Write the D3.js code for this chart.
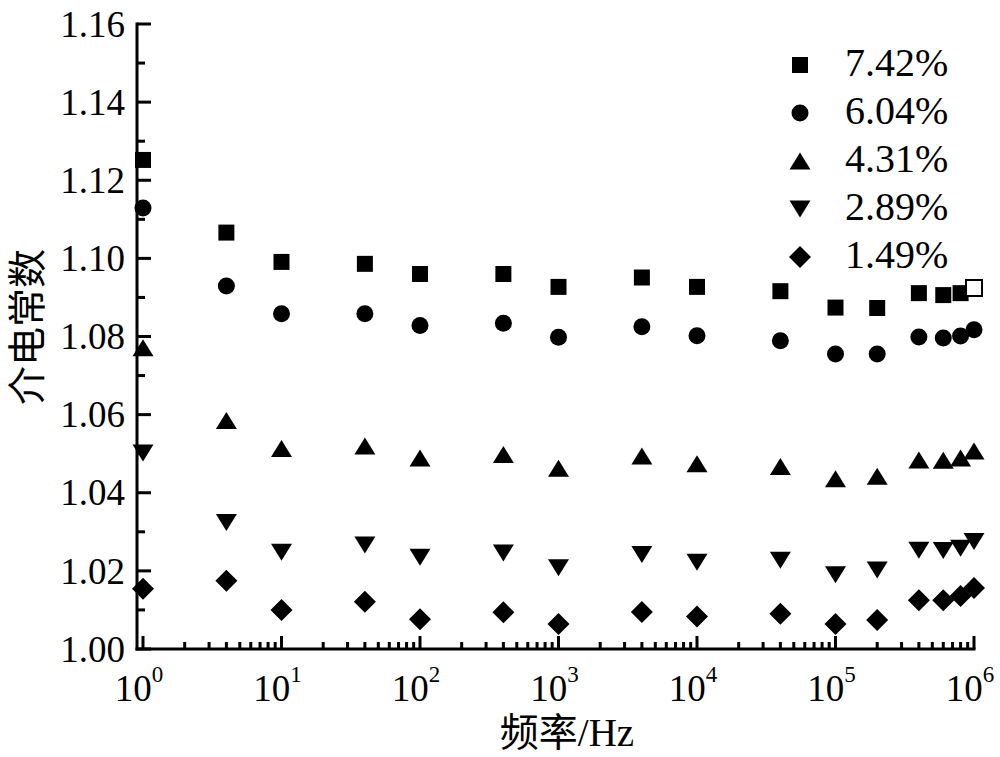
<!DOCTYPE html>
<html>
<head>
<meta charset="utf-8">
<script src="https://cdn.jsdelivr.net/npm/d3@7"></script>
<style>
  body { margin: 0; background: #fff; }
  svg { display: block; }
  text { font-family: "Liberation Serif", "Times New Roman", serif; fill: #000; }
</style>
</head>
<body>
<svg width="1000" height="757"></svg>
<script>
// frequencies (Hz)
const freqs = [1, 4, 10, 40, 100, 400, 1000, 4000, 1e4, 4e4, 1e5, 2e5, 4e5, 6e5, 8e5, 1e6];

const s742 = [1.1252, 1.1066, 1.0991, 1.0986, 1.0960, 1.0960, 1.0927, 1.0951, 1.0927, 1.0916, 1.0874, 1.0873, 1.0911, 1.0906, 1.0911, 1.0924];
const s604 = [1.1129, 1.0929, 1.0858, 1.0858, 1.0828, 1.0834, 1.0798, 1.0825, 1.0802, 1.0789, 1.0755, 1.0755, 1.0799, 1.0796, 1.0801, 1.0817];
const s431 = [1.0771, 1.0585, 1.0513, 1.0520, 1.0489, 1.0498, 1.0463, 1.0494, 1.0474, 1.0467, 1.0436, 1.0442, 1.0484, 1.0483, 1.0489, 1.0507];
const s289 = [1.0502, 1.0324, 1.0248, 1.0266, 1.0235, 1.0246, 1.0208, 1.0242, 1.0222, 1.0227, 1.0190, 1.0202, 1.0253, 1.0252, 1.0258, 1.0275];
const s149 = [1.0154, 1.0175, 1.0100, 1.0121, 1.0076, 1.0094, 1.0064, 1.0095, 1.0083, 1.0090, 1.0064, 1.0074, 1.0125, 1.0125, 1.0136, 1.0156];

const seriesNames = ["7.42%", "6.04%", "4.31%", "2.89%", "1.49%"];
const seriesValues = [s742, s604, s431, s289, s149];
const shapes = ["square", "circle", "up", "down", "diamond"];

const yTicks = [1.00, 1.02, 1.04, 1.06, 1.08, 1.10, 1.12, 1.14, 1.16];
const xTicks = [1, 10, 100, 1000, 1e4, 1e5, 1e6];

const svg = d3.select('svg');

const x = d3.scaleLog().domain([Math.pow(10, -0.0433), 1e6]).range([137, 974]);
const y = d3.scaleLinear().domain([1.00, 1.16]).range([649, 24]);

// marker shapes, centred on their bounding box
function shapePath(kind) {
  switch (kind) {
    case 'square': return 'M-8,-8H8V8H-8Z';
    case 'circle': return 'M-8.5,0A8.5,8.5 0 1,0 8.5,0A8.5,8.5 0 1,0 -8.5,0Z';
    case 'up': return 'M0,-8.5L10.5,8.5L-10.5,8.5Z';
    case 'down': return 'M0,8.5L10.5,-8.5L-10.5,-8.5Z';
    case 'diamond': return 'M0,-11L11,0L0,11L-11,0Z';
  }
}

// y tick labels
const yAxis = d3.axisLeft(y).tickValues(yTicks).tickSize(0).tickPadding(12)
  .tickFormat(d3.format('.2f'));
const gy = svg.append('g').attr('transform', 'translate(137,0)').call(yAxis);
gy.select('.domain').remove();
gy.selectAll('text').style('font-size', '37px').attr('dy', '0.33em');

// x tick labels as 10^n
const gx = svg.append('g');
xTicks.forEach(v => {
  const t = gx.append('text')
    .attr('x', x(v) - 4)
    .attr('y', 701)
    .attr('text-anchor', 'middle')
    .style('font-size', '37px')
    .text('10');
  t.append('tspan')
    .attr('dy', -19)
    .style('font-size', '23px')
    .text(Math.round(Math.log10(v)));
});

// inward ticks drawn as filled rects
const tickG = svg.append('g').attr('fill', '#000');
const yMinor = d3.range(0, 17).map(i => 1 + i * 0.01);
tickG.selectAll('rect.yt')
  .data(yMinor)
  .join('rect')
    .attr('class', 'yt')
    .attr('x', 137)
    .attr('y', d => y(d) - 1.5)
    .attr('width', (d, i) => i % 2 === 0 ? 14 : 8)
    .attr('height', 3);

const xMinor = [];
for (let e = 0; e <= 6; e++) {
  (e < 6 ? [1, 2, 3, 4, 5, 6, 7, 8, 9] : [1]).forEach(m => xMinor.push({ v: m * Math.pow(10, e), major: m === 1 }));
}
tickG.selectAll('rect.xt')
  .data(xMinor)
  .join('rect')
    .attr('class', 'xt')
    .attr('x', d => x(d.v) - 1.5)
    .attr('y', d => 649 - (d.major ? 13 : 7))
    .attr('width', 3)
    .attr('height', d => d.major ? 13 : 7);

// axis lines
tickG.append('rect').attr('x', 135.5).attr('y', 22.5).attr('width', 3).attr('height', 628);
tickG.append('rect').attr('x', 135.5).attr('y', 647.5).attr('width', 840).attr('height', 3);

// axis titles
svg.append('text')
  .attr('x', 567).attr('y', 746)
  .attr('text-anchor', 'middle')
  .style('font-size', '39px')
  .html('<tspan style="font-family:\'Noto Sans CJK SC\'">频率</tspan>/Hz');

svg.append('text')
  .attr('transform', 'translate(41,327) rotate(-90)')
  .attr('text-anchor', 'middle')
  .style('font-family', '"Noto Sans CJK SC"')
  .style('font-size', '39px')
  .text('介电常数');

// points
seriesValues.forEach((vals, si) => {
  svg.append('g').selectAll('path')
    .data(vals.map((v, i) => ({ f: freqs[i], v: v, last: i === vals.length - 1 })))
    .join('path')
      .attr('d', shapePath(shapes[si]))
      .attr('transform', d => `translate(${x(d.f)},${y(d.v)})`)
      .attr('fill', d => (si === 0 && d.last) ? '#fff' : '#000')
      .attr('stroke', d => (si === 0 && d.last) ? '#000' : 'none')
      .attr('stroke-width', 2);
});

// legend
const legend = svg.append('g');
seriesNames.forEach((name, i) => {
  const cy = 65 + i * 48;
  legend.append('path')
    .attr('d', shapePath(shapes[i]))
    .attr('transform', `translate(800,${cy})`)
    .attr('fill', '#000');
  legend.append('text')
    .attr('x', 845).attr('y', cy + 11)
    .style('font-size', '40px')
    .text(name);
});
</script>
</body>
</html>
